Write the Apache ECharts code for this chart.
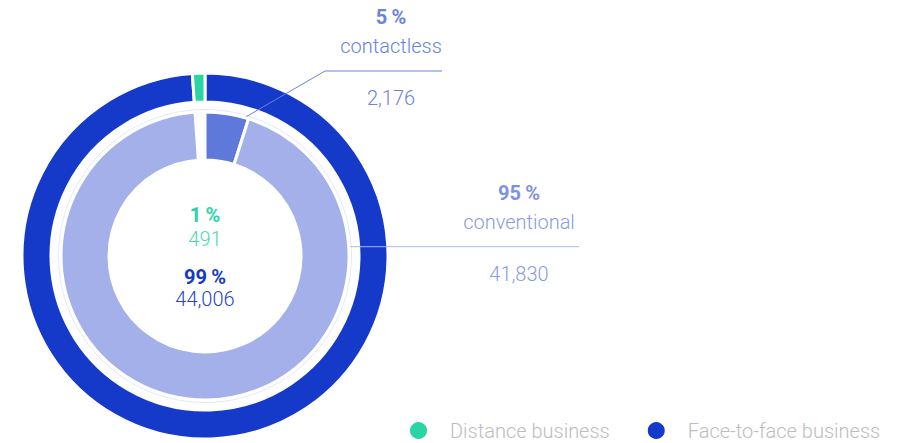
<!DOCTYPE html>
<html>
<head>
<meta charset="utf-8">
<script src="https://cdn.jsdelivr.net/npm/echarts@6/dist/echarts.min.js"></script>
<style>
  html, body { margin: 0; padding: 0; background: #fff; }
  #chart { width: 908px; height: 443px; }
</style>
</head>
<body>
<div id="chart"></div>
<script>
// Outer ring: sales channel split
const channelNames = ['Face-to-face business', 'Distance business'];
const channelValues = [44006, 491];

// Inner ring: payment type within face-to-face business
const paymentNames = ['contactless', 'conventional'];
const paymentValues = [2176, 41830];

const legendNames = ['Distance business', 'Face-to-face business'];

const FONT = 'Roboto, "Noto Sans", sans-serif';
const FS = 20;
const CX = 205, CY = 256;
const OUTER_R = [154, 183];
const INNER_R = [96, 144];

const C = {
  face: '#1539C9',
  faceText: '#2744CB',
  distance: '#2BD4A3',
  distanceText: '#4AD9AE',
  conventional: '#A3B0EA',
  contactless: '#5F79DB',
  contactlessText: '#6A82DC',
  conventionalPct: '#7E91E0',
  conventionalText: '#8A9BE4',
  legendText: '#BDBDBD'
};

const channelTotal = channelValues.reduce((a, b) => a + b, 0);
const paymentTotal = paymentValues.reduce((a, b) => a + b, 0);
const pct = (v, t) => Math.round(v / t * 100) + '\u2009%';
const fmt = v => v.toLocaleString('en-US');

// label placement for the inner ring callouts
const callouts = {
  contactless: { lineY: 71, elbowX: 325, endX: 442, textX: 391, angle: 16 },
  conventional: { lineY: 246.7, endX: 579, textX: 519 }
};

function ringPoint(r, angleFromTop) {
  const a = angleFromTop * Math.PI / 180;
  return [CX + r * Math.sin(a), CY - r * Math.cos(a)];
}

const outerColors = [C.face, C.distance];
const outerTextColors = [C.faceText, C.distanceText];
const outerLineHeights = [22, 24];
const outerOffsets = [32, -29];

const outerData = channelNames.map((name, i) => ({
  name: name,
  value: channelValues[i],
  itemStyle: { color: outerColors[i] },
  label: {
    formatter: '{p|' + pct(channelValues[i], channelTotal) + '}\n{v|' + fmt(channelValues[i]) + '}',
    color: outerColors[i],
    rich: {
      p: { fontFamily: FONT, fontSize: FS, fontWeight: 'bold', color: outerColors[i], lineHeight: outerLineHeights[i], align: 'center' },
      v: { fontFamily: FONT, fontSize: FS, fontWeight: 300, color: outerTextColors[i], lineHeight: outerLineHeights[i], align: 'center' }
    }
  }
}));

const innerColors = [C.contactless, C.conventional];
const innerPctColors = [C.contactlessText, C.conventionalPct];
const innerTextColors = [C.contactlessText, C.conventionalText];
const innerLineColors = [C.contactlessText, '#A9B5EC'];

const innerData = paymentNames.map((name, i) => ({
  name: name,
  value: paymentValues[i],
  itemStyle: { color: innerColors[i] },
  label: {
    formatter: '{p|' + pct(paymentValues[i], paymentTotal) + '}\n{n|' + name + '}\n{g| }\n{v|' + fmt(paymentValues[i]) + '}',
    rich: {
      p: { fontFamily: FONT, fontSize: FS, fontWeight: 'bold', color: innerPctColors[i], lineHeight: 30, align: 'center' },
      n: { fontFamily: FONT, fontSize: FS, fontWeight: 300, color: innerTextColors[i], lineHeight: 28, align: 'center' },
      g: { fontSize: 10, lineHeight: 24 },
      v: { fontFamily: FONT, fontSize: FS, fontWeight: 300, color: innerTextColors[i], lineHeight: 28, align: 'center' }
    }
  },
  labelLine: { show: true, lineStyle: { color: innerLineColors[i], width: 1 } }
}));
// empty gap in the inner ring where distance business sits on the outer ring
innerData.push({
  name: '',
  value: channelValues[1],
  itemStyle: { color: 'rgba(0,0,0,0)', borderWidth: 0 },
  label: { show: false },
  labelLine: { show: false },
  emphasis: { disabled: true },
  tooltip: { show: false }
});

const chart = echarts.init(document.getElementById('chart'), null, { renderer: 'svg' });

chart.setOption({
  animation: false,
  textStyle: { fontFamily: FONT },
  legend: {
    data: legendNames,
    left: 408,
    top: 420,
    padding: 0,
    icon: 'circle',
    itemWidth: 19,
    itemHeight: 19,
    itemGap: 36,
    selectedMode: false,
    textStyle: { fontFamily: FONT, fontSize: FS, fontWeight: 300, color: C.legendText, padding: [0, 0, 0, 17] }
  },
  graphic: [{
    type: 'circle',
    shape: { cx: CX, cy: CY, r: 146.5 },
    style: { fill: 'none', stroke: '#E4E9F8', lineWidth: 1 },
    silent: true,
    z: -1
  }],
  series: [
    {
      name: 'channel',
      type: 'pie',
      z: 2,
      center: [CX, CY],
      radius: OUTER_R,
      startAngle: 90,
      clockwise: true,
      avoidLabelOverlap: false,
      itemStyle: { borderColor: '#fff', borderWidth: 3 },
      emphasis: { disabled: true },
      label: { show: true, position: 'inside' },
      labelLine: { show: false },
      labelLayout: function (params) {
        return {
          x: CX,
          y: CY + outerOffsets[params.dataIndex],
          align: 'center',
          verticalAlign: 'middle'
        };
      },
      data: outerData
    },
    {
      name: 'payment',
      type: 'pie',
      z: 5,
      center: [CX, CY],
      radius: INNER_R,
      startAngle: 90,
      clockwise: true,
      avoidLabelOverlap: false,
      itemStyle: { borderColor: '#fff', borderWidth: 3 },
      emphasis: { disabled: true },
      label: { show: true, position: 'outside' },
      labelLine: { show: true },
      labelLayout: function (params) {
        const name = paymentNames[params.dataIndex];
        const c = callouts[name];
        if (!c) return {};
        let pts;
        if (name === 'contactless') {
          pts = [ringPoint(INNER_R[1], c.angle), [c.elbowX, c.lineY], [c.endX, c.lineY]];
        } else {
          const dy = CY - c.lineY;
          const sx = CX + Math.sqrt(INNER_R[1] * INNER_R[1] - dy * dy);
          pts = [[sx, c.lineY], [(sx + c.endX) / 2, c.lineY], [c.endX, c.lineY]];
        }
        return {
          x: c.textX,
          y: c.lineY - 69,
          align: 'center',
          verticalAlign: 'top',
          labelLinePoints: pts
        };
      },
      data: innerData
    }
  ]
});
</script>
</body>
</html>
